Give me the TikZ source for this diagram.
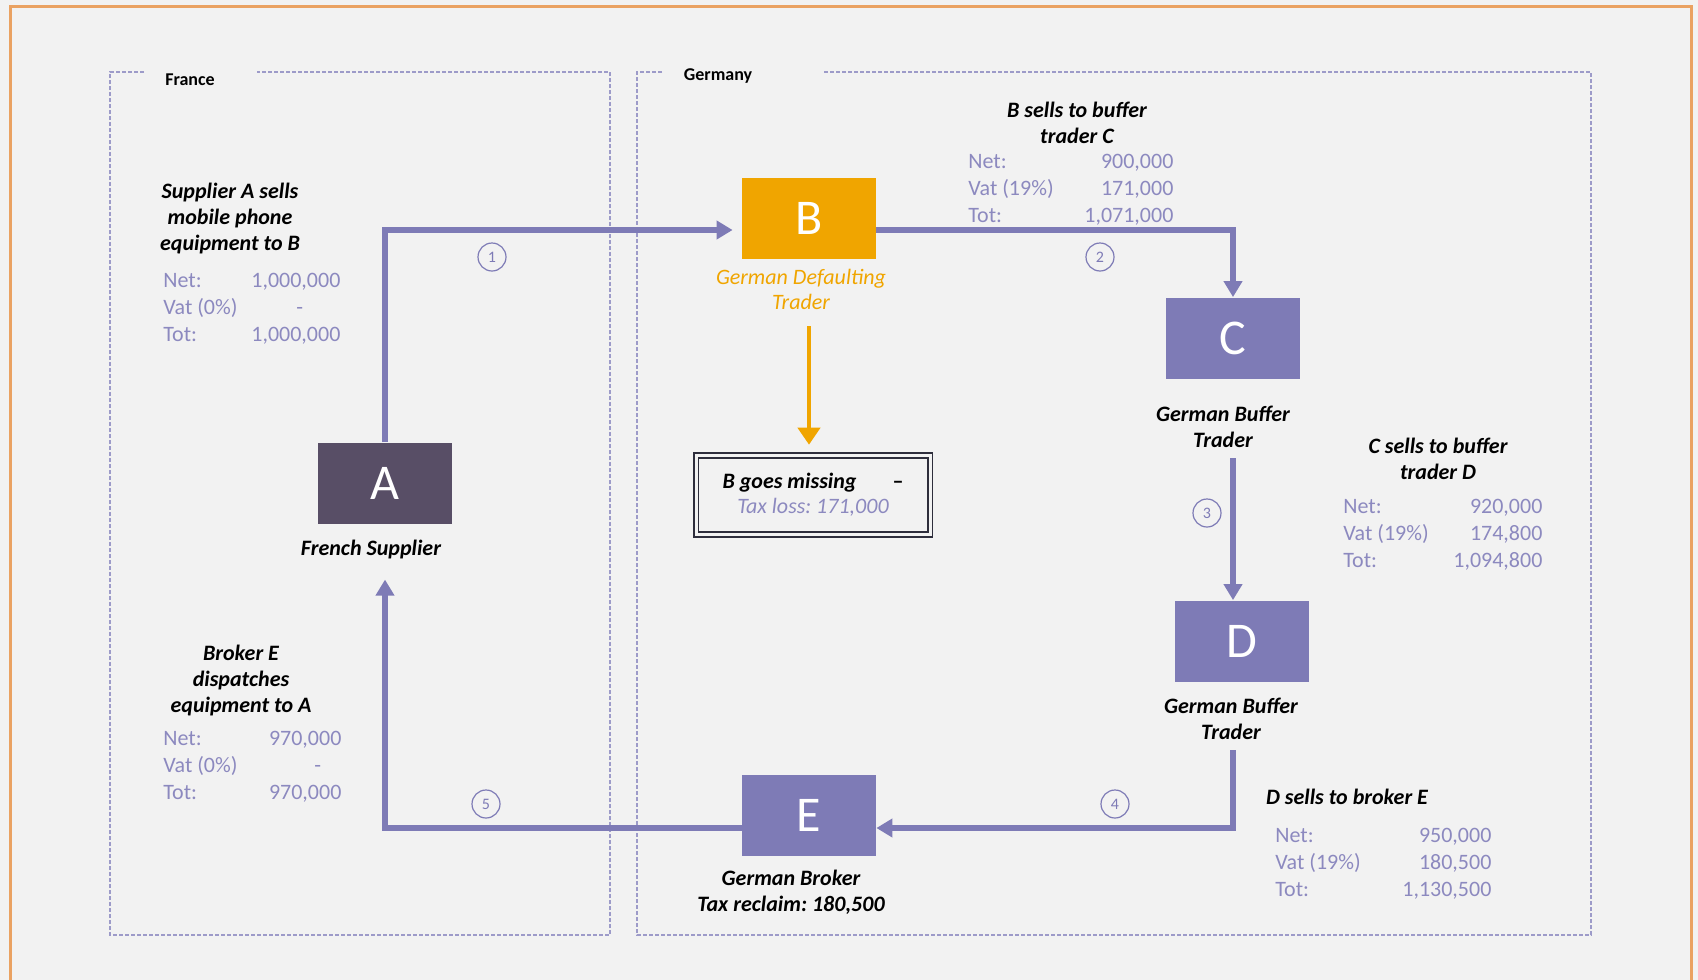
\documentclass[tikz,border=0pt]{standalone}
\usepackage{fontspec}
\setmainfont{Carlito}
\usepackage{tikz}
\usetikzlibrary{arrows.meta,positioning,calc}
\definecolor{VATPurple}{HTML}{7E7BB6}
\definecolor{VATDark}{HTML}{584E66}
\definecolor{VATOrange}{HTML}{F0A500}
\definecolor{VATValue}{HTML}{8C89BF}
\definecolor{VATFrame}{HTML}{EAA262}
\definecolor{VATPanel}{HTML}{F2F2F2}
\definecolor{VATBorder}{HTML}{9D9BC9}
\definecolor{VATInk}{HTML}{2E2E3C}
\frenchspacing

\begin{document}
\begin{tikzpicture}[x=0.5pt,y=-0.5pt,
  party/.style={minimum width=67pt,minimum height=40.5pt,inner sep=0pt,text=white,font=\fontsize{25}{25}\selectfont},
  role/.style={align=center,inner sep=0pt,font=\fontsize{11}{13}\selectfont\bfseries\itshape},
  head/.style={align=center,inner sep=0pt,font=\fontsize{11}{13}\selectfont\bfseries\itshape},
  vals/.style={anchor=west,inner sep=0pt,text=VATValue,font=\fontsize{11}{13.5}\selectfont},
  stepno/.style={circle,draw=VATPurple,line width=0.6pt,minimum size=14pt,inner sep=0pt,text=VATPurple,font=\fontsize{8}{8}\selectfont},
  zone/.style={VATBorder,line width=0.7pt,dash pattern=on 2pt off 1pt},
  flow/.style={-{Triangle[length=8pt,width=9pt]},line width=3pt,VATPurple},
  loss/.style={-{Triangle[length=8.5pt,width=11pt]},line width=2pt,VATOrange},
]
\useasboundingbox (0,0) rectangle (1698,980);
\fill[VATPanel] (0,0) rectangle (1698,980);
\draw[VATFrame,line width=1.5pt] (10,980) -- (10,6) -- (1691,6) -- (1691,980);
\draw[zone] (144,72) -- (110,72) -- (110,935) -- (610,935) -- (610,72) -- (257,72);
\draw[zone] (662,72) -- (637,72) -- (637,935) -- (1591,935) -- (1591,72) -- (824,72);
\node[font=\fontsize{9}{9}\selectfont\bfseries] (france) at (190,80) {France};
\node[font=\fontsize{9}{9}\selectfont\bfseries] (germany) at (718,76) {Germany};

\node[party,fill=VATDark] (A) at (385,483) {A};
\node[party,fill=VATOrange] (B) at (809,218) {B};
\node[party,fill=VATPurple] (C) at (1233,338) {C};
\node[party,fill=VATPurple] (D) at (1242,641) {D};
\node[party,fill=VATPurple] (E) at (809,815) {E};
\node[role,below=8pt of A,xshift=-7pt] (Alab) {French Supplier};
\node[role,below=5pt of B,xshift=-4pt,text=VATOrange,font=\fontsize{11}{12.5}\selectfont\itshape] (Blab) {German Defaulting\\Trader};
\node[role,below=13.5pt of C,xshift=-5pt] (Clab) {German Buffer\\Trader};
\node[role,below=8pt of D,xshift=-5.5pt] (Dlab) {German Buffer\\Trader};
\node[role,below=7pt of E,xshift=-9pt] (Elab) {German Broker\\Tax reclaim: 180,500};
\node[draw=VATInk,line width=0.8pt,double=VATPanel,double distance=1.5pt,minimum width=117pt,minimum height=39.5pt,align=center,font=\fontsize{11}{12.5}\selectfont] (miss) at (813,495) {\textbf{\textit{B goes missing}}\hspace{18pt}\textbf{--}\\\textcolor{VATValue}{\textit{Tax loss: 171,000}}};

\draw[flow,shorten >=4.5pt] (A.north) |- ([yshift=-6pt]B.west);
\draw[flow] ([yshift=-6pt]B.east) -| (C.north);
\draw[flow] ($(C.south |- Clab.south)+(0,-5pt)$) -- (C.south |- D.north);
\draw[flow] ($(C.south |- Dlab.south)+(0,-5pt)$) |- ([yshift=-6.5pt]E.east);
\draw[flow] ([yshift=-6.5pt]E.west) -| ($(A.south |- Alab.south)+(0,-10pt)$);
\draw[loss] ($(B.south |- Blab.south)+(0,-8pt)$) -- ($(B.south |- miss.north)+(0,5pt)$);

\node[stepno] (n1) at (492,257) {1};
\node[stepno] (n2) at (1100,257) {2};
\node[stepno] (n3) at (1207,513) {3};
\node[stepno] (n4) at (1115,804) {4};
\node[stepno] (n5) at (486,804) {5};

\node[head] (hA) at (230,219) {Supplier A sells\\mobile phone\\equipment to B};
\node[vals] (tA) at (163,309) {\begin{tabular*}{88.5pt}{@{}l@{\extracolsep{\fill}}r@{}}Net: & 1,000,000\\Vat (0\%) & \makebox[22pt][l]{-}\\Tot: & 1,000,000\end{tabular*}};
\node[head] (hB) at (1077,123) {B sells to buffer\\trader C};
\node[vals] (tB) at (968,190) {\begin{tabular*}{102.5pt}{@{}l@{\extracolsep{\fill}}r@{}}Net: & 900,000\\Vat (19\%) & 171,000\\Tot: & 1,071,000\end{tabular*}};
\node[head] (hC) at (1438,459) {C sells to buffer\\trader D};
\node[vals] (tC) at (1343,535) {\begin{tabular*}{99.5pt}{@{}l@{\extracolsep{\fill}}r@{}}Net: & 920,000\\Vat (19\%) & 174,800\\Tot: & 1,094,800\end{tabular*}};
\node[head] (hD) at (1347,797) {D sells to broker E};
\node[vals] (tD) at (1275,864) {\begin{tabular*}{108pt}{@{}l@{\extracolsep{\fill}}r@{}}Net: & 950,000\\Vat (19\%) & 180,500\\Tot: & 1,130,500\end{tabular*}};
\node[head] (hE) at (241,681) {Broker E\\dispatches\\equipment to A};
\node[vals] (tE) at (163,767) {\begin{tabular*}{89pt}{@{}l@{\extracolsep{\fill}}r@{}}Net: & 970,000\\Vat (0\%) & \makebox[13.5pt][l]{-}\\Tot: & 970,000\end{tabular*}};
\end{tikzpicture}
\end{document}
